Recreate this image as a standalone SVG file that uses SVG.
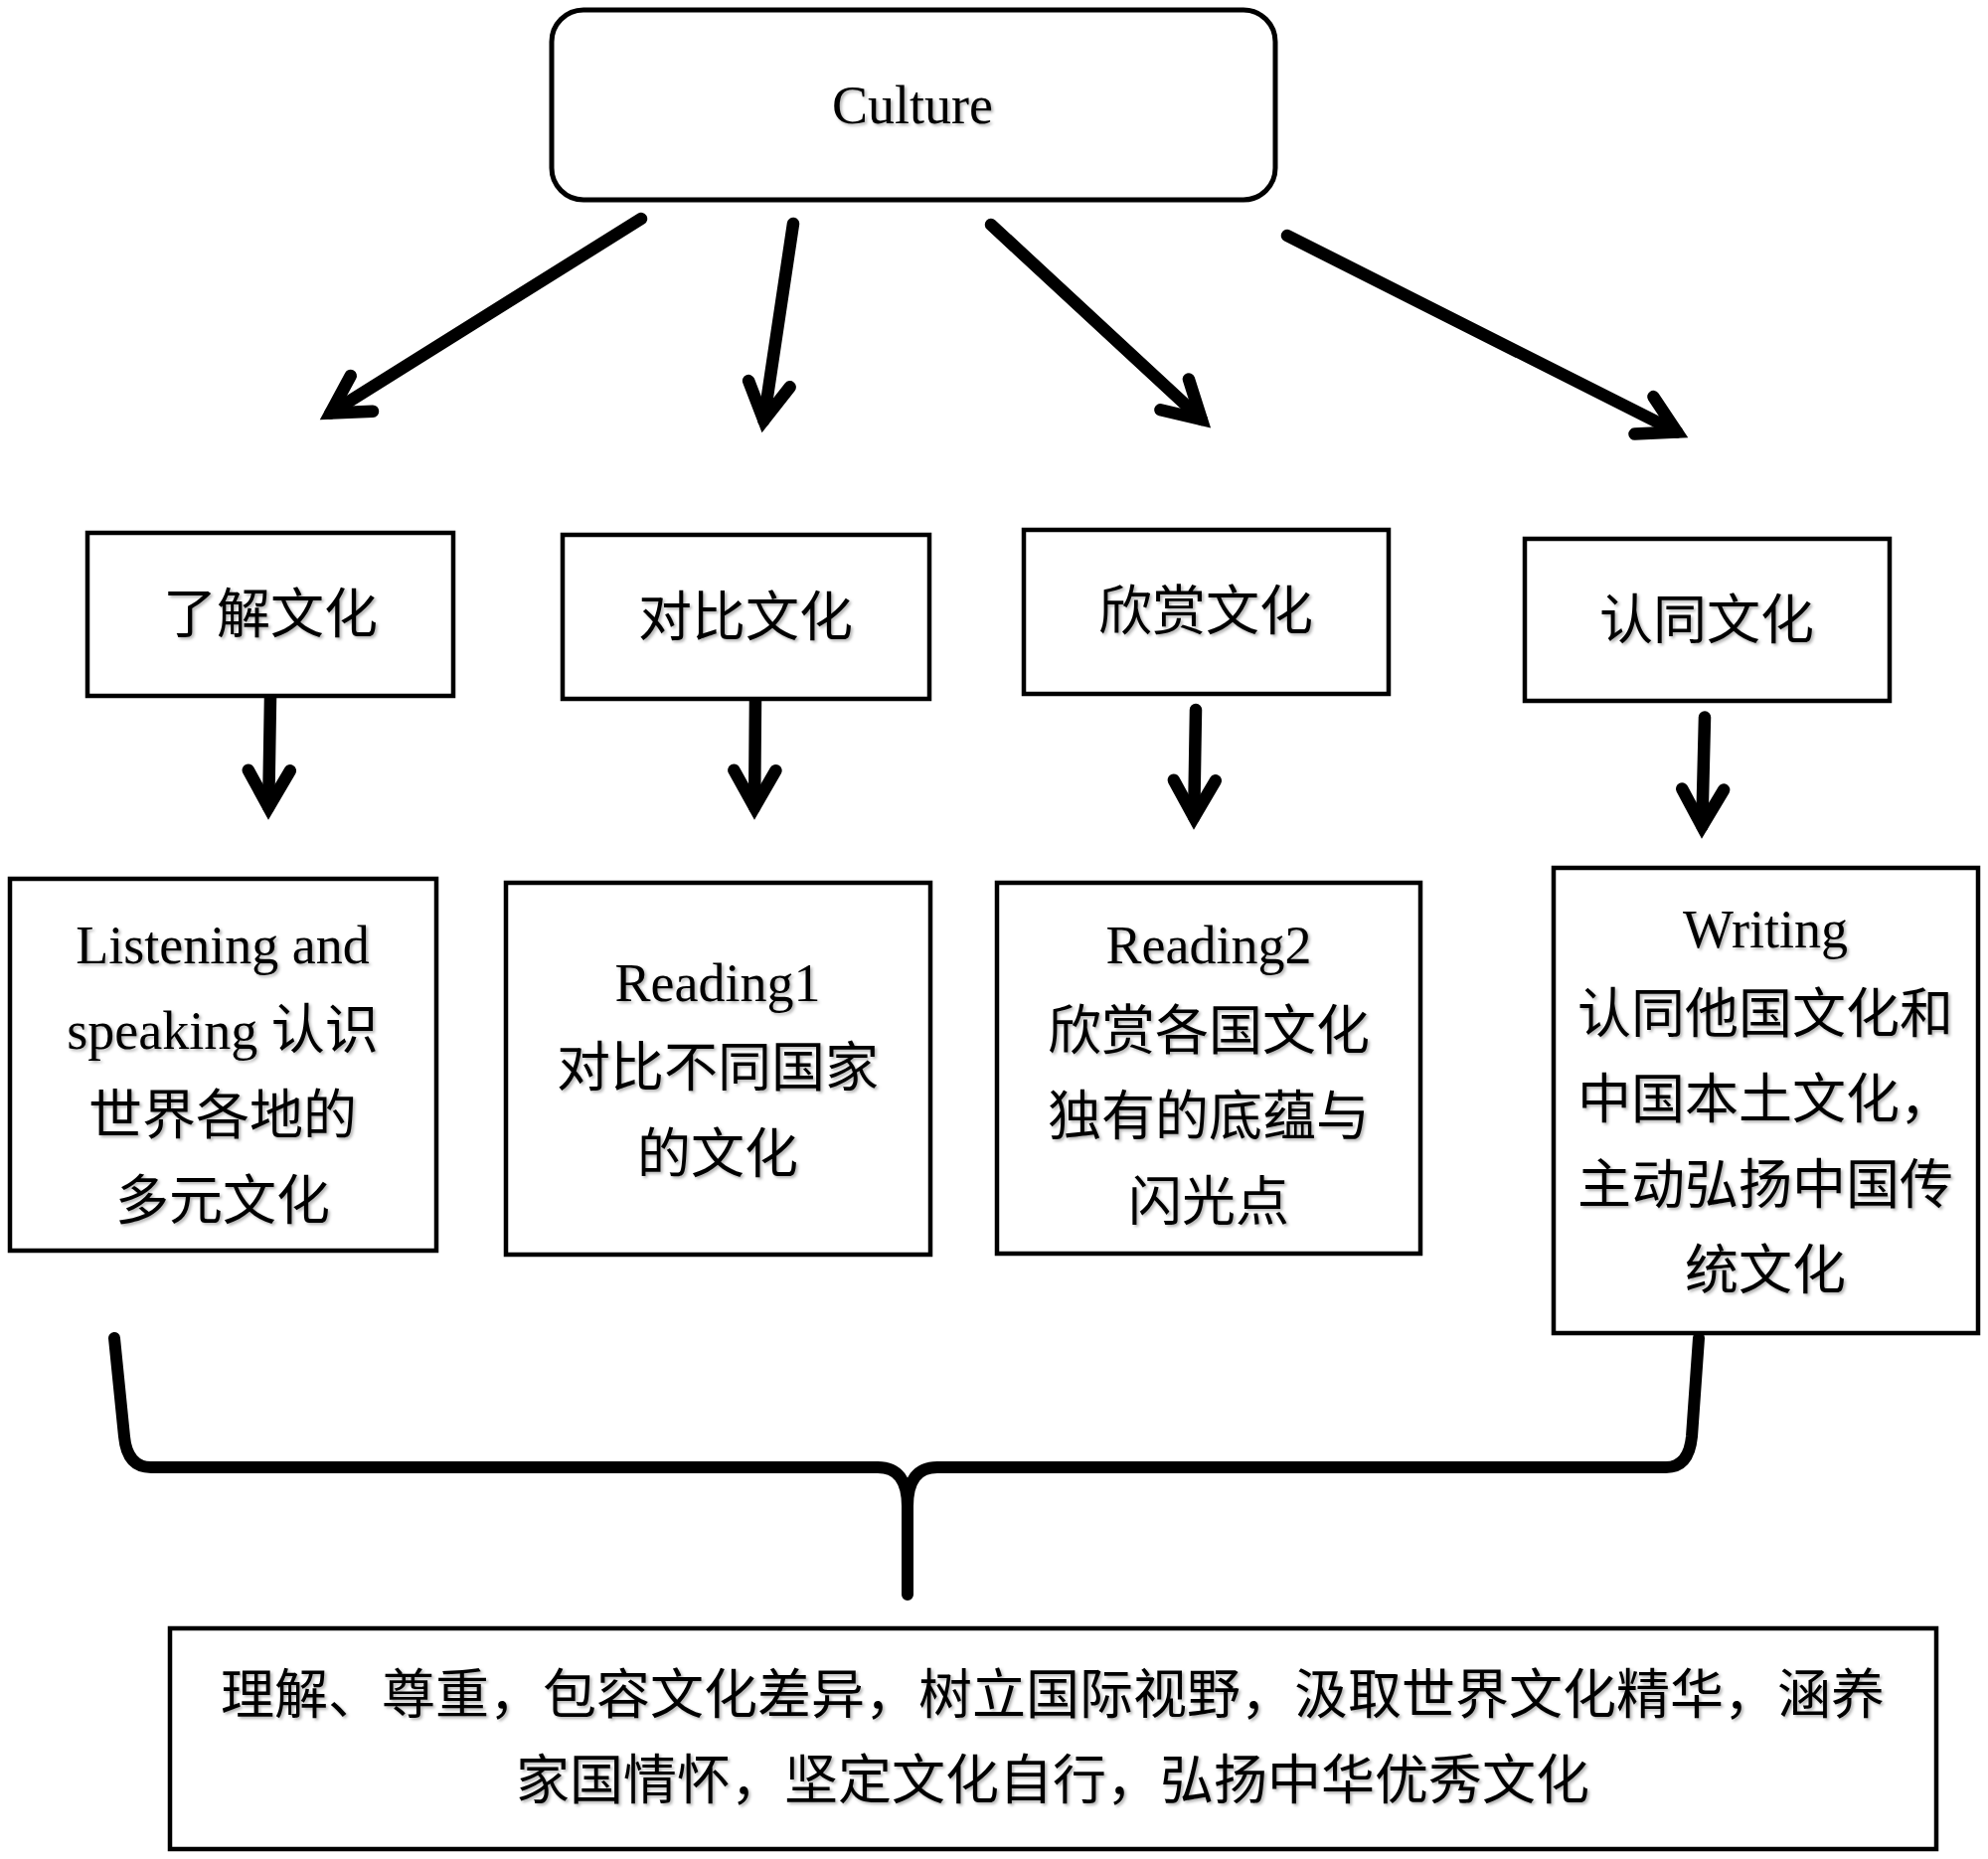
<svg xmlns="http://www.w3.org/2000/svg" width="2000" height="1870" viewBox="0 0 2000 1870">
<style>
  .box { fill: #fff; stroke: #000; stroke-width: 4.5; }
  .t { font-family: "Liberation Serif", "Noto Sans CJK SC", serif; font-size: 54px; fill: #000; text-anchor: middle; filter: url(#sh); }
  .arrow { fill: none; stroke: #000; stroke-width: 12.5; stroke-linecap: round; marker-end: url(#ah); }
  .brace { fill: none; stroke: #000; stroke-width: 12; stroke-linecap: round; stroke-linejoin: round; }
</style>
<defs>
  <filter id="sh" x="-10%" y="-30%" width="120%" height="160%">
    <feDropShadow dx="2" dy="2" stdDeviation="1.5" flood-color="#000" flood-opacity="0.3"/>
  </filter>
  <marker id="ah" markerUnits="userSpaceOnUse" orient="auto" overflow="visible" viewBox="-60 -50 100 100" markerWidth="100" markerHeight="100" refX="0" refY="0">
    <path d="M -37,-21 L 0,0 L -37,21" fill="none" stroke="#000" stroke-width="12.5" stroke-linecap="round" stroke-linejoin="miter" stroke-miterlimit="10"/>
  </marker>
</defs>
<rect width="2000" height="1870" fill="#fff"/>

<g id="connectors">
  <line class="arrow" x1="645" y1="220" x2="332.5" y2="415.5"/>
  <line class="arrow" x1="798" y1="225" x2="768.4" y2="422.8"/>
  <line class="arrow" x1="997" y1="226" x2="1208.8" y2="422"/>
  <line class="arrow" x1="1295" y1="237" x2="1687" y2="434.5"/>
  <line class="arrow" x1="272" y1="702" x2="270.2" y2="812"/>
  <line class="arrow" x1="760" y1="701" x2="759.1" y2="812"/>
  <line class="arrow" x1="1203" y1="714" x2="1201.2" y2="822"/>
  <line class="arrow" x1="1715" y1="721.5" x2="1712.3" y2="831"/>
  <path class="brace" d="M 115,1346 L 125,1445 Q 128,1476 152,1476 L 883,1476 Q 913,1476 913,1515 L 913,1604"/>
  <path class="brace" d="M 1709,1346 L 1702,1445 Q 1699,1476 1676,1476 L 943,1476 Q 913,1476 913,1515"/>
</g>

<g id="culture">
  <rect x="555" y="10" width="728" height="191" rx="32" ry="32" fill="#fff" stroke="#000" stroke-width="5"/>
  <text class="t" x="918" y="124" font-size="55">Culture</text>
</g>

<g id="node-liaojie">
  <rect class="box" x="88" y="536" width="368" height="164"/>
  <text class="t" x="272" y="637">了解文化</text>
</g>
<g id="node-duibi">
  <rect class="box" x="566" y="538" width="369" height="165"/>
  <text class="t" x="750" y="640">对比文化</text>
</g>
<g id="node-xinshang">
  <rect class="box" x="1030" y="533" width="367" height="165"/>
  <text class="t" x="1213" y="634">欣赏文化</text>
</g>
<g id="node-rentong">
  <rect class="box" x="1534" y="542" width="367" height="163"/>
  <text class="t" x="1717" y="643">认同文化</text>
</g>

<g id="node-listening">
  <rect class="box" x="10" y="884" width="429" height="374"/>
  <text class="t" x="224" y="969">Listening and</text>
  <text class="t" x="224" y="1055">speaking 认识</text>
  <text class="t" x="224" y="1141">世界各地的</text>
  <text class="t" x="224" y="1227">多元文化</text>
</g>
<g id="node-reading1">
  <rect class="box" x="509" y="888" width="427" height="374"/>
  <text class="t" x="722" y="1007">Reading1</text>
  <text class="t" x="722" y="1093">对比不同国家</text>
  <text class="t" x="722" y="1180">的文化</text>
</g>
<g id="node-reading2">
  <rect class="box" x="1003" y="888" width="426" height="373"/>
  <text class="t" x="1216" y="969">Reading2</text>
  <text class="t" x="1216" y="1056">欣赏各国文化</text>
  <text class="t" x="1216" y="1142">独有的底蕴与</text>
  <text class="t" x="1216" y="1228">闪光点</text>
</g>
<g id="node-writing">
  <rect class="box" x="1563" y="873" width="427" height="468"/>
  <text class="t" x="1776" y="953">Writing</text>
  <text class="t" x="1776" y="1039">认同他国文化和</text>
  <text class="t" x="1776" y="1125">中国本土文化，</text>
  <text class="t" x="1776" y="1211">主动弘扬中国传</text>
  <text class="t" x="1776" y="1297">统文化</text>
</g>

<g id="node-summary">
  <rect class="box" x="171" y="1638" width="1777" height="222"/>
  <text class="t" x="1059" y="1724">理解、尊重，包容文化差异，树立国际视野，汲取世界文化精华，涵养</text>
  <text class="t" x="1059" y="1810">家国情怀，坚定文化自行，弘扬中华优秀文化</text>
</g>
</svg>
